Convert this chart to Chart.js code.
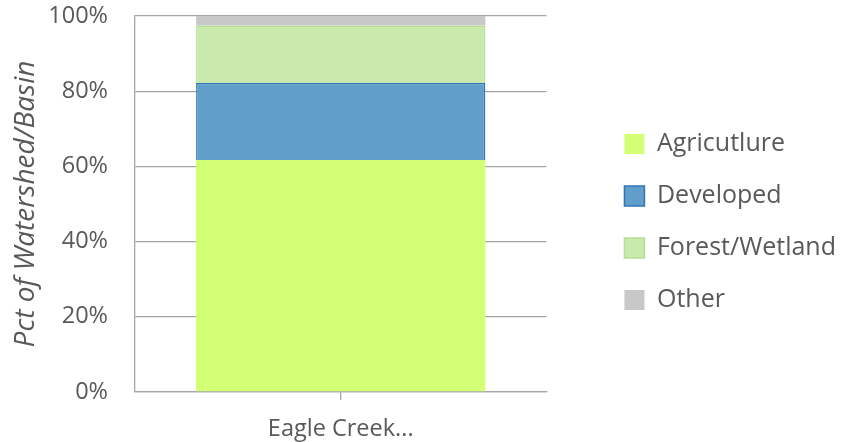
<!DOCTYPE html>
<html>
<head>
<meta charset="utf-8">
<script src="https://cdn.jsdelivr.net/npm/chart.js@4"></script>
<style>
  html, body { margin: 0; padding: 0; background: #fff; }
  #wrap { width: 853px; height: 442px; }
</style>
</head>
<body>
<div id="wrap"><canvas id="myChart"></canvas></div>
<script>
var categories = ["Eagle Creek..."];
var agriculture = [61.7];
var developed = [20.5];
var forestWetland = [15.3];
var other = [2.5];
var yTicks = [0, 20, 40, 60, 80, 100];

var ink = "#595959";
var gridGray = "#a6a6a6";
var font = "'Open Sans', sans-serif";

// leave a gap between plot and legend, then nudge the legend items
var legendGap = {
  id: 'legendGap',
  beforeLayout: function (chart) {
    var lg = chart.legend;
    if (lg && !lg._gapDone) {
      var fit = lg.fit;
      lg.fit = function () { fit.call(this); this.width += 58; };
      lg._gapDone = true;
    }
  },
  afterLayout: function (chart) {
    if (chart.legend) {
      chart.legend.left += 51;
      chart.legend.top -= 7;
      chart.legend.bottom -= 7;
    }
  }
};

var ctx = document.getElementById("myChart");
var myChart = new Chart(ctx, {
  type: 'bar',
  data: {
    labels: categories,
    datasets: [
      {
        label: "Agricutlure",
        data: agriculture,
        backgroundColor: "#d2ff73",
        borderColor: "#d2ff73",
        borderWidth: 0
      },
      {
        label: "Developed",
        data: developed,
        backgroundColor: "#619fca",
        borderColor: "#2e75b6",
        borderWidth: 1.5
      },
      {
        label: "Forest/Wetland",
        data: forestWetland,
        backgroundColor: "#c9e9ad",
        borderColor: "#b3de94",
        borderWidth: 1.5
      },
      {
        label: "Other",
        data: other,
        backgroundColor: "#c8c8c8",
        borderColor: "#c8c8c8",
        borderWidth: 0
      }
    ]
  },
  options: {
    responsive: true,
    maintainAspectRatio: false,
    animation: false,
    layout: { padding: { top: 16, right: 0, bottom: 0, left: 0 } },
    datasets: {
      bar: { barPercentage: 0.703, categoryPercentage: 1 }
    },
    scales: {
      x: {
        stacked: true,
        grid: {
          offset: false,
          drawOnChartArea: false,
          drawTicks: true,
          tickLength: 8,
          color: gridGray,
          lineWidth: 1.3
        },
        border: { display: true, color: gridGray, width: 1.3 },
        ticks: { color: ink, padding: 15, font: { family: font, size: 23.5 } },
        afterFit: function (scale) { scale.height = 50; }
      },
      y: {
        stacked: true,
        min: 0,
        max: 100,
        afterBuildTicks: function (scale) {
          scale.ticks = yTicks.map(function (v) { return { value: v }; });
        },
        grid: {
          color: gridGray,
          lineWidth: 1.3,
          drawTicks: true,
          tickLength: 27,
          tickColor: 'rgba(0,0,0,0)'
        },
        border: { display: true, color: gridGray, width: 1.3 },
        ticks: {
          color: ink,
          padding: 0,
          font: { family: font, size: 23.5 },
          callback: function (v) { return v + '%'; }
        },
        title: {
          display: true,
          text: "Pct of Watershed/Basin",
          color: ink,
          font: { family: font, size: 28, style: 'italic' },
          padding: { top: 9, bottom: 0 }
        },
        afterFit: function (scale) { scale.width = 135; }
      }
    },
    plugins: {
      legend: {
        position: 'right',
        maxWidth: 400,
        labels: {
          color: ink,
          boxWidth: 20,
          boxHeight: 20,
          padding: 27,
          font: { family: font, size: 25 }
        }
      },
      tooltip: { enabled: false }
    }
  },
  plugins: [legendGap]
});
</script>
</body>
</html>
